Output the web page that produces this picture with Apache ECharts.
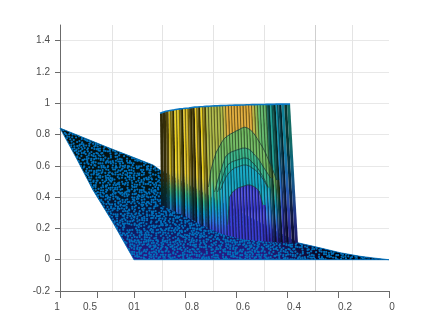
<!DOCTYPE html>
<html>
<head>
<meta charset="utf-8">
<style>html,body{margin:0;padding:0;background:#fff}#main{width:436px;height:327px}</style>
<script src="https://cdn.jsdelivr.net/npm/echarts@6/dist/echarts.min.js"></script>
</head>
<body>
<div id="main"></div>
<script>
var n = null;
// axis ticks
var yTicks = [-0.2, 0, 0.2, 0.4, 0.6, 0.8, 1, 1.2, 1.4];
var leftTicks = [1, 0.5, 0];
var rightTicks = [1, 0.8, 0.6, 0.4, 0.2, 0];
var gridLinesX = [1.086, 0.89, 0.69, 0.49, 0.29, 0.145];

// flat sheet of points (blue speckle), in the scale of the right axis
var sheetUpperX = [1.29, 1.106, 0.925, 0.898, 0.357, 0.271, 0.192, 0.114, 0.055, 0];
var sheetUpperY = [0.841, 0.72, 0.605, 0.573, 0.108, 0.076, 0.045, 0.022, 0.01, 0];
var sheetLowerX = [1, 1.082, 1.161, 1.224];
var sheetLowerY = [0, 0.236, 0.446, 0.643];

// wall surface, one entry per column
var wallTopX = [.898,.887,.875,.864,.853,.842,.83,.819,.807,.796,.785,.773,.762,.751,.74,.728,.717,.705,.694,.683,.671,.66,.649,.638,.626,.615,.604,.592,.581,.569,.558,.547,.536,.524,.513,.502,.49,.479,.467,.456,.445,.434,.422,.411,.4,.388];
var wallBaseX = [.894,.882,.871,.859,.846,.835,.822,.811,.798,.787,.775,.763,.751,.739,.727,.715,.703,.692,.679,.667,.655,.644,.631,.62,.607,.596,.584,.572,.56,.548,.536,.524,.512,.5,.488,.476,.464,.453,.44,.429,.416,.405,.393,.381,.369,.357];
var wallTop = [.936,.943,.949,.952,.955,.958,.962,.964,.966,.968,.97,.973,.975,.976,.978,.979,.98,.981,.982,.983,.984,.985,.986,.986,.987,.987,.988,.988,.989,.989,.99,.99,.991,.991,.992,.992,.992,.993,.993,.993,.994,.994,.994,.994,.994,.994];
var wallBase = [.35,.341,.331,.322,.312,.306,.296,.287,.277,.268,.258,.248,.236,.226,.217,.207,.197,.191,.182,.172,.166,.159,.153,.15,.143,.14,.134,.131,.127,.127,.124,.121,.121,.118,.118,.115,.115,.115,.111,.111,.108,.108,.108,.108,.108,.108];
var contourA = [n,n,n,n,n,n,n,n,n,n,n,n,n,n,n,n,.465,.573,.637,.688,.72,.752,.777,.79,.803,.812,.822,.831,.841,.847,.841,.828,.809,.777,.745,.713,.669,.618,.567,.51,n,n,n,n,n,n];
var contourB = [n,n,n,n,n,n,n,n,n,n,n,n,n,n,n,n,n,n,.433,.497,.554,.605,.656,.675,.688,.694,.701,.707,.713,.713,.707,.694,.669,.65,.618,.586,.554,.522,n,n,n,n,n,n,n,n];
var contourC = [n,n,n,n,n,n,n,n,n,n,n,n,n,n,n,n,n,n,n,.433,.49,.535,.586,.611,.624,.631,.637,.643,.65,.65,.643,.624,.605,.58,.548,.51,.465,n,n,n,n,n,n,n,n,n];
var contourD = [n,n,n,n,n,n,n,n,n,n,n,n,n,n,n,n,n,n,n,n,.446,.49,.529,.554,.573,.586,.592,.599,.605,.605,.599,.586,.573,.554,.529,.497,.459,n,n,n,n,n,n,n,n,n];
var contourE = [n,n,n,n,n,n,n,n,n,n,n,n,n,n,n,n,n,n,n,n,n,n,.223,.401,.433,.446,.459,.465,.471,.478,.478,.471,.459,.439,.35,n,n,n,n,n,n,n,n,n,n,n];
var contourLevel = [.64, .56, .5, .42, .12];
// colour level at the top and foot of each column, and how lit it is
var levelTop = [.88,.88,.88,.9,.9,.9,.9,.9,.88,.88,.88,.88,.88,.9,.9,.9,.72,.72,.72,.72,.72,.72,.76,.8,.8,.8,.8,.8,.8,.8,.8,.8,.74,.68,.62,.62,.62,.5,.5,.5,.42,.42,.42,.5,.5,.5];
var levelBase = [.28,.28,.28,.28,.22,.22,.22,.22,.22,.22,.22,.22,.22,.22,.22,.16,.14,.14,.14,.14,.14,.14,.12,.12,.12,.12,.12,.12,.12,.12,.12,.12,.12,.12,.04,.04,.04,.04,.04,.04,.04,.04,.04,.04,.04,.04];
var wallLight = [.2,.22,.35,.85,.4,1,.95,.35,1,.9,.4,.35,1,.4,1,.5,1,1,1,1,1,1,1,1,1,1,1,1,1,1,1,1,1,1,1,1,.95,.5,.9,.4,.85,.4,.75,.3,.6,.25];

var contours = [contourA, contourB, contourC, contourD, contourE];
var ramp = [[0,'#2b1f8f'],[.12,'#3c3ed6'],[.25,'#2f7ee8'],[.38,'#12a6d8'],[.48,'#17b3b0'],[.56,'#3cb98c'],[.64,'#72bd62'],[.72,'#b0bc48'],[.8,'#e2ae3a'],[.9,'#eed31e'],[1,'#f8f010']];

function hexRgb(h) {
	return [parseInt(h.substr(1,2),16), parseInt(h.substr(3,2),16), parseInt(h.substr(5,2),16)];
}
function levelColor(t, light) {
	var k = 0;
	while (k < ramp.length - 2 && t > ramp[k+1][0]) k++;
	var f = Math.max(0, Math.min(1, (t - ramp[k][0]) / (ramp[k+1][0] - ramp[k][0])));
	var a = hexRgb(ramp[k][1]), b = hexRgb(ramp[k+1][1]);
	return 'rgb(' + [0,1,2].map(function(c){ return Math.round((a[c] + (b[c]-a[c])*f) * light); }).join(',') + ')';
}

// speckle tile for the sheet: small round dots on a jittered lattice, wrapped at the edges
function speckleTile() {
	var c = document.createElement('canvas'), size = 96, s = 2463534242;
	c.width = c.height = size;
	var g = c.getContext('2d');
	function next() {
		s ^= s << 13; s ^= s >>> 17; s ^= s << 5; s = s >>> 0;
		return (s % 1000) / 1000;
	}
	g.fillStyle = '#0072bd';
	for (var y = 0; y < size - 1; y += 2.4) {
		for (var x = 0; x < size - 1; x += 2.4) {
			var jx = (next() - .5) * 1.8, jy = (next() - .5) * 1.8;
			if (next() < 0.2) continue;
			for (var ox = -size; ox <= size; ox += size) {
				for (var oy = -size; oy <= size; oy += size) {
					g.beginPath();
					g.arc(x + jx + ox, y + jy + oy, 1.1, 0, Math.PI * 2);
					g.fill();
				}
			}
		}
	}
	return c;
}
var tile = speckleTile();

function xAt(i, y) {
	var f = (y - wallBase[i]) / (wallTop[i] - wallBase[i]);
	return wallBaseX[i] + (wallTopX[i] - wallBaseX[i]) * f;
}

function renderWallStrip(params, api) {
	var i = params.dataIndex;
	if (i >= wallTop.length - 1) return;
	var light = wallLight[i];
	var levels = [], tones = [];
	levels.push([wallTop[i], wallTop[i+1]]);
	tones.push(levelTop[i]);
	for (var k = 0; k < contours.length; k++) {
		if (contours[k][i] != null) {
			var r = contours[k][i+1] != null ? contours[k][i+1] : contours[k][i];
			levels.push([contours[k][i], r]);
			tones.push(contourLevel[k]);
		}
	}
	levels.push([wallBase[i], wallBase[i+1]]);
	var kids = [];
	for (var s = 0; s < levels.length - 1; s++) {
		var pts = [
			api.coord([xAt(i, levels[s][0]), levels[s][0]]),
			api.coord([xAt(i+1, levels[s][1]), levels[s][1]]),
			api.coord([xAt(i+1, levels[s+1][1]), levels[s+1][1]]),
			api.coord([xAt(i, levels[s+1][0]), levels[s+1][0]])
		];
		var fill;
		if (s == levels.length - 2) {
			// last band runs down to the foot of the column
			var hold = levels.length > 2 ? 0.15 : (i < 22 ? 0.6 : 0.25);
			var stops = [{offset:0, color:levelColor(tones[s], light)}, {offset:hold, color:levelColor(tones[s], light)}];
			for (var q = 1; q <= 4; q++) {
				stops.push({offset: hold + (1-hold)*q/4, color: levelColor(tones[s] + (levelBase[i]-tones[s])*q/4, light)});
			}
			fill = new echarts.graphic.LinearGradient(0, pts[0][1], 0, pts[3][1], stops, true);
		} else {
			fill = levelColor(tones[s], light);
		}
		kids.push({type:'polygon', shape:{points:pts}, style:{fill:fill, stroke:typeof fill == 'string' ? fill : null, lineWidth:0.4}});
	}
	// narrow facets: each column has a shaded half
	if (i >= 3 && i < 42) {
		var t0 = api.coord([wallTopX[i], wallTop[i]]), t1 = api.coord([wallTopX[i+1], wallTop[i+1]]);
		var b0 = api.coord([wallBaseX[i], wallBase[i]]), b1 = api.coord([wallBaseX[i+1], wallBase[i+1]]);
		kids.push({type:'polygon', shape:{points:[[(t0[0]+t1[0])/2, (t0[1]+t1[1])/2], t1, b1, [(b0[0]+b1[0])/2, (b0[1]+b1[1])/2]]},
			style:{fill:'rgba(0,0,0,0.5)'}});
	}
	return {type:'group', children:kids};
}

function renderSheet(params, api) {
	if (params.dataIndex > 0) return;
	var pts = [], i;
	for (i = 0; i < sheetUpperX.length; i++) pts.push(api.coord([sheetUpperX[i], sheetUpperY[i]]));
	for (i = 0; i < sheetLowerX.length; i++) pts.push(api.coord([sheetLowerX[i], sheetLowerY[i]]));
	var topY = api.coord([0, 0.841])[1], botY = api.coord([0, 0])[1];
	var xA = api.coord([0.5, 0])[0], xB = api.coord([0.22, 0])[0];
	return {type:'group', children:[
		{type:'polygon', shape:{points:pts}, style:{fill:new echarts.graphic.LinearGradient(0, topY, 0, botY, [
			{offset:0, color:'#060f0c'}, {offset:.45, color:'#02141a'}, {offset:.75, color:'#0c1a5c'}, {offset:1, color:'#2a1a8a'}], true)}},
		{type:'polygon', shape:{points:pts}, style:{fill:new echarts.graphic.LinearGradient(xA, 0, xB, 0, [
			{offset:0, color:'rgba(0,0,0,0)'}, {offset:1, color:'rgba(0,0,0,0.9)'}], true)}},
		{type:'polygon', shape:{points:pts}, style:{fill:{image:tile, repeat:'repeat'}}},
		{type:'polygon', shape:{points:pts}, style:{fill:'none', stroke:'rgba(0,114,189,0.8)', lineWidth:1}}
	]};
}

var indexes = wallTop.map(function(v, i){ return i; });
var txt = {color:'#4d4d4d', fontFamily:'Liberation Sans', fontSize:10};
function richStyle(pad) {
	return {color:txt.color, fontFamily:txt.fontFamily, fontSize:txt.fontSize, padding:pad};
}
var rich = {l3:richStyle([0,6,0,0]), l7:richStyle([0,14,0,0]), r3:richStyle([0,0,0,6]), r7:richStyle([0,0,0,14])};
var axisGrey = {color:'#6b6b6b', width:1};

function hiddenY(idx) {
	return {gridIndex:idx, type:'value', min:-0.2, max:1.5, show:false};
}

var myChart = echarts.init(document.getElementById('main'), null, {renderer:'canvas'});
myChart.setOption({
	animation:false,
	backgroundColor:'#fff',
	grid:[
		{left:60, top:25, width:74, height:266},
		{left:134, top:25, width:255, height:266},
		{left:60, top:25, width:329, height:266}
	],
	xAxis:[
		{gridIndex:0, type:'value', min:0, max:1, inverse:true, position:'bottom', splitLine:{show:false},
			axisLine:{show:true, onZero:false, lineStyle:axisGrey}, axisTick:{show:true, length:7, lineStyle:axisGrey, customValues:leftTicks},
			axisLabel:Object.assign({margin:11, customValues:leftTicks, rich:rich, formatter:function(v){ return (v == 0.5 ? '{l7|' : '{l3|') + v + '}'; }}, txt)},
		{gridIndex:1, type:'value', min:0, max:1, inverse:true, position:'bottom', splitLine:{show:false},
			axisLine:{show:true, onZero:false, lineStyle:axisGrey}, axisTick:{show:true, length:7, lineStyle:axisGrey, customValues:rightTicks},
			axisLabel:Object.assign({margin:11, customValues:rightTicks, rich:rich, formatter:function(v){ return (v == 0 || v == 1 ? '{r3|' : '{r7|') + v + '}'; }}, txt)},
		{gridIndex:2, type:'value', min:0, max:1.29, inverse:true, axisLine:{show:false, onZero:false}, axisLabel:{show:false},
			axisTick:{show:false, customValues:gridLinesX},
			splitLine:{show:true, lineStyle:{color:['#e4e4e4','#e4e4e4','#e4e4e4','#e4e4e4','#cfcfcf','#e4e4e4'], width:1}}}
	],
	yAxis:[
		hiddenY(0),
		hiddenY(1),
		{gridIndex:2, type:'value', min:-0.2, max:1.5, position:'left',
			axisLine:{show:true, onZero:false, lineStyle:axisGrey}, axisTick:{show:true, length:5, lineStyle:axisGrey, customValues:yTicks},
			axisLabel:Object.assign({margin:10, customValues:yTicks}, txt),
			splitLine:{show:true, lineStyle:{color:'#e8e8e8', width:1}}}
	],
	series:[
		{type:'custom', xAxisIndex:2, yAxisIndex:2, z:2, clip:false, silent:true, data:[0], renderItem:renderSheet},
		{type:'custom', xAxisIndex:1, yAxisIndex:1, z:3, clip:false, silent:true, data:indexes, renderItem:renderWallStrip},
		{type:'line', xAxisIndex:1, yAxisIndex:1, z:5, showSymbol:false, silent:true,
			data:wallTop.map(function(v, i){ return [wallTopX[i], v]; }), lineStyle:{color:'#0a78c4', width:1.6}}
	].concat(contours.map(function(c){
		var line = [];
		c.forEach(function(v, i){ if (v != null) line.push([xAt(i, v), v]); });
		return {type:'line', xAxisIndex:1, yAxisIndex:1, z:4, showSymbol:false, silent:true, data:line,
			lineStyle:{color:'rgba(25,55,50,0.75)', width:1}};
	}))
});
</script>
</body>
</html>
